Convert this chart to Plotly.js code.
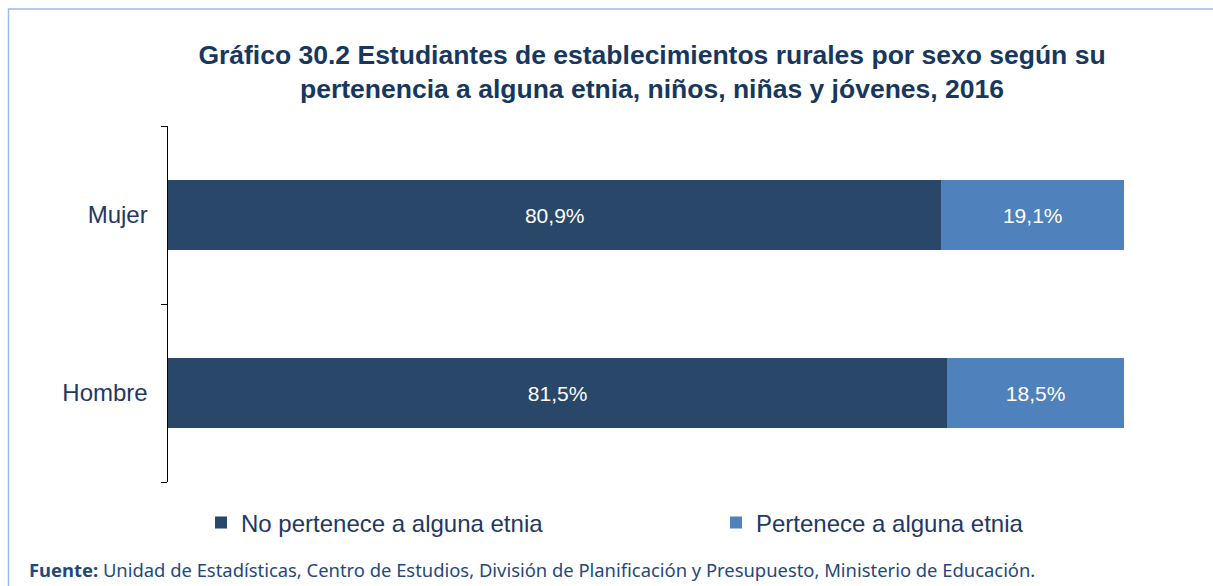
<!DOCTYPE html>
<html>
<head>
<meta charset="utf-8">
<script src="https://cdn.plot.ly/plotly-3.0.1.min.js"></script>
<style>html,body{margin:0;padding:0;background:#fff;}#chart{width:1213px;height:586px;}</style>
</head>
<body>
<div id="chart"></div>
<script>
// Data
const categories = ['Hombre', 'Mujer'];
const noPertenece = [81.5, 80.9];
const pertenece = [18.5, 19.1];
const seriesNames = ['No pertenece a alguna etnia', 'Pertenece a alguna etnia'];
const titleText = 'Gráfico 30.2 Estudiantes de establecimientos rurales por sexo según su<br>pertenencia a alguna etnia, niños, niñas y jóvenes, 2016';
const sourceText = '<b>Fuente:</b> Unidad de Estadísticas, Centro de Estudios, División de Planificación y Presupuesto, Ministerio de Educación.';

const W = 1213, H = 586;
const mL = 168, mR = 89, mT = 126, mB = 104;
const pw = W - mL - mR, ph = H - mT - mB;
const px2x = p => (p - mL) / pw;
const py2y = p => (H - mB - p) / ph;

const SANS = 'Liberation Sans';
const labelFont = {family: SANS, size: 21, color: '#ffffff'};
const legendFont = {family: SANS, size: 24, color: '#1f3864'};

const traces = [
  {
    type: 'bar', orientation: 'h', name: seriesNames[0],
    y: categories, x: noPertenece,
    marker: {color: '#284769'},
    width: 0.39,
    text: noPertenece, texttemplate: '%{x:.1f}%',
    textposition: 'inside', insidetextanchor: 'middle',
    textfont: labelFont, hoverinfo: 'none',
    legend: 'legend'
  },
  {
    type: 'bar', orientation: 'h', name: seriesNames[1],
    y: categories, x: pertenece,
    marker: {color: '#4f81bd'},
    width: 0.39,
    text: pertenece, texttemplate: '%{x:.1f}%',
    textposition: 'inside', insidetextanchor: 'middle',
    textfont: labelFont, hoverinfo: 'none',
    legend: 'legend2'
  }
];

const legendBase = {
  orientation: 'h', xanchor: 'left', y: py2y(523), yanchor: 'middle',
  font: legendFont, bgcolor: 'rgba(0,0,0,0)',
  itemclick: false, itemdoubleclick: false
};

const layout = {
  width: W, height: H,
  margin: {l: mL, r: mR, t: mT, b: mB, pad: 0},
  paper_bgcolor: '#ffffff', plot_bgcolor: '#ffffff',
  barmode: 'stack',
  separators: ',.',
  showlegend: true,
  title: {
    text: titleText,
    font: {family: SANS, size: 26.5, color: '#17375e', weight: 'bold'},
    x: 0.5375, xanchor: 'center', y: 1 - 64 / H, yanchor: 'middle'
  },
  xaxis: {
    range: [0, 100], visible: false, fixedrange: true
  },
  yaxis: {
    type: 'category', range: [-0.5, 1.5],
    showline: true, linecolor: '#000000', linewidth: 1.5,
    ticks: 'outside', ticklen: 6, tickcolor: '#000000', tickwidth: 1,
    tickson: 'boundaries', showgrid: false, zeroline: false,
    ticklabelstandoff: 14,
    tickfont: {family: SANS, size: 24, color: '#1f3864'},
    fixedrange: true
  },
  legend: Object.assign({}, legendBase, {x: px2x(201)}),
  legend2: Object.assign({}, legendBase, {x: px2x(716)}),
  annotations: [
    {
      text: sourceText, xref: 'paper', yref: 'paper',
      x: px2x(27), xanchor: 'left', y: py2y(569), yanchor: 'middle',
      showarrow: false, align: 'left',
      font: {family: 'Noto Sans', size: 18.4, color: '#1f497d'}
    }
  ],
  shapes: [
    {
      type: 'rect', xref: 'paper', yref: 'paper', layer: 'below',
      x0: px2x(8.5), x1: px2x(1230), y0: py2y(600), y1: py2y(9),
      line: {color: '#9dbbe3', width: 1.5}, fillcolor: 'rgba(0,0,0,0)'
    }
  ]
};

Plotly.newPlot('chart', traces, layout, {displayModeBar: false, staticPlot: true});
</script>
</body>
</html>
